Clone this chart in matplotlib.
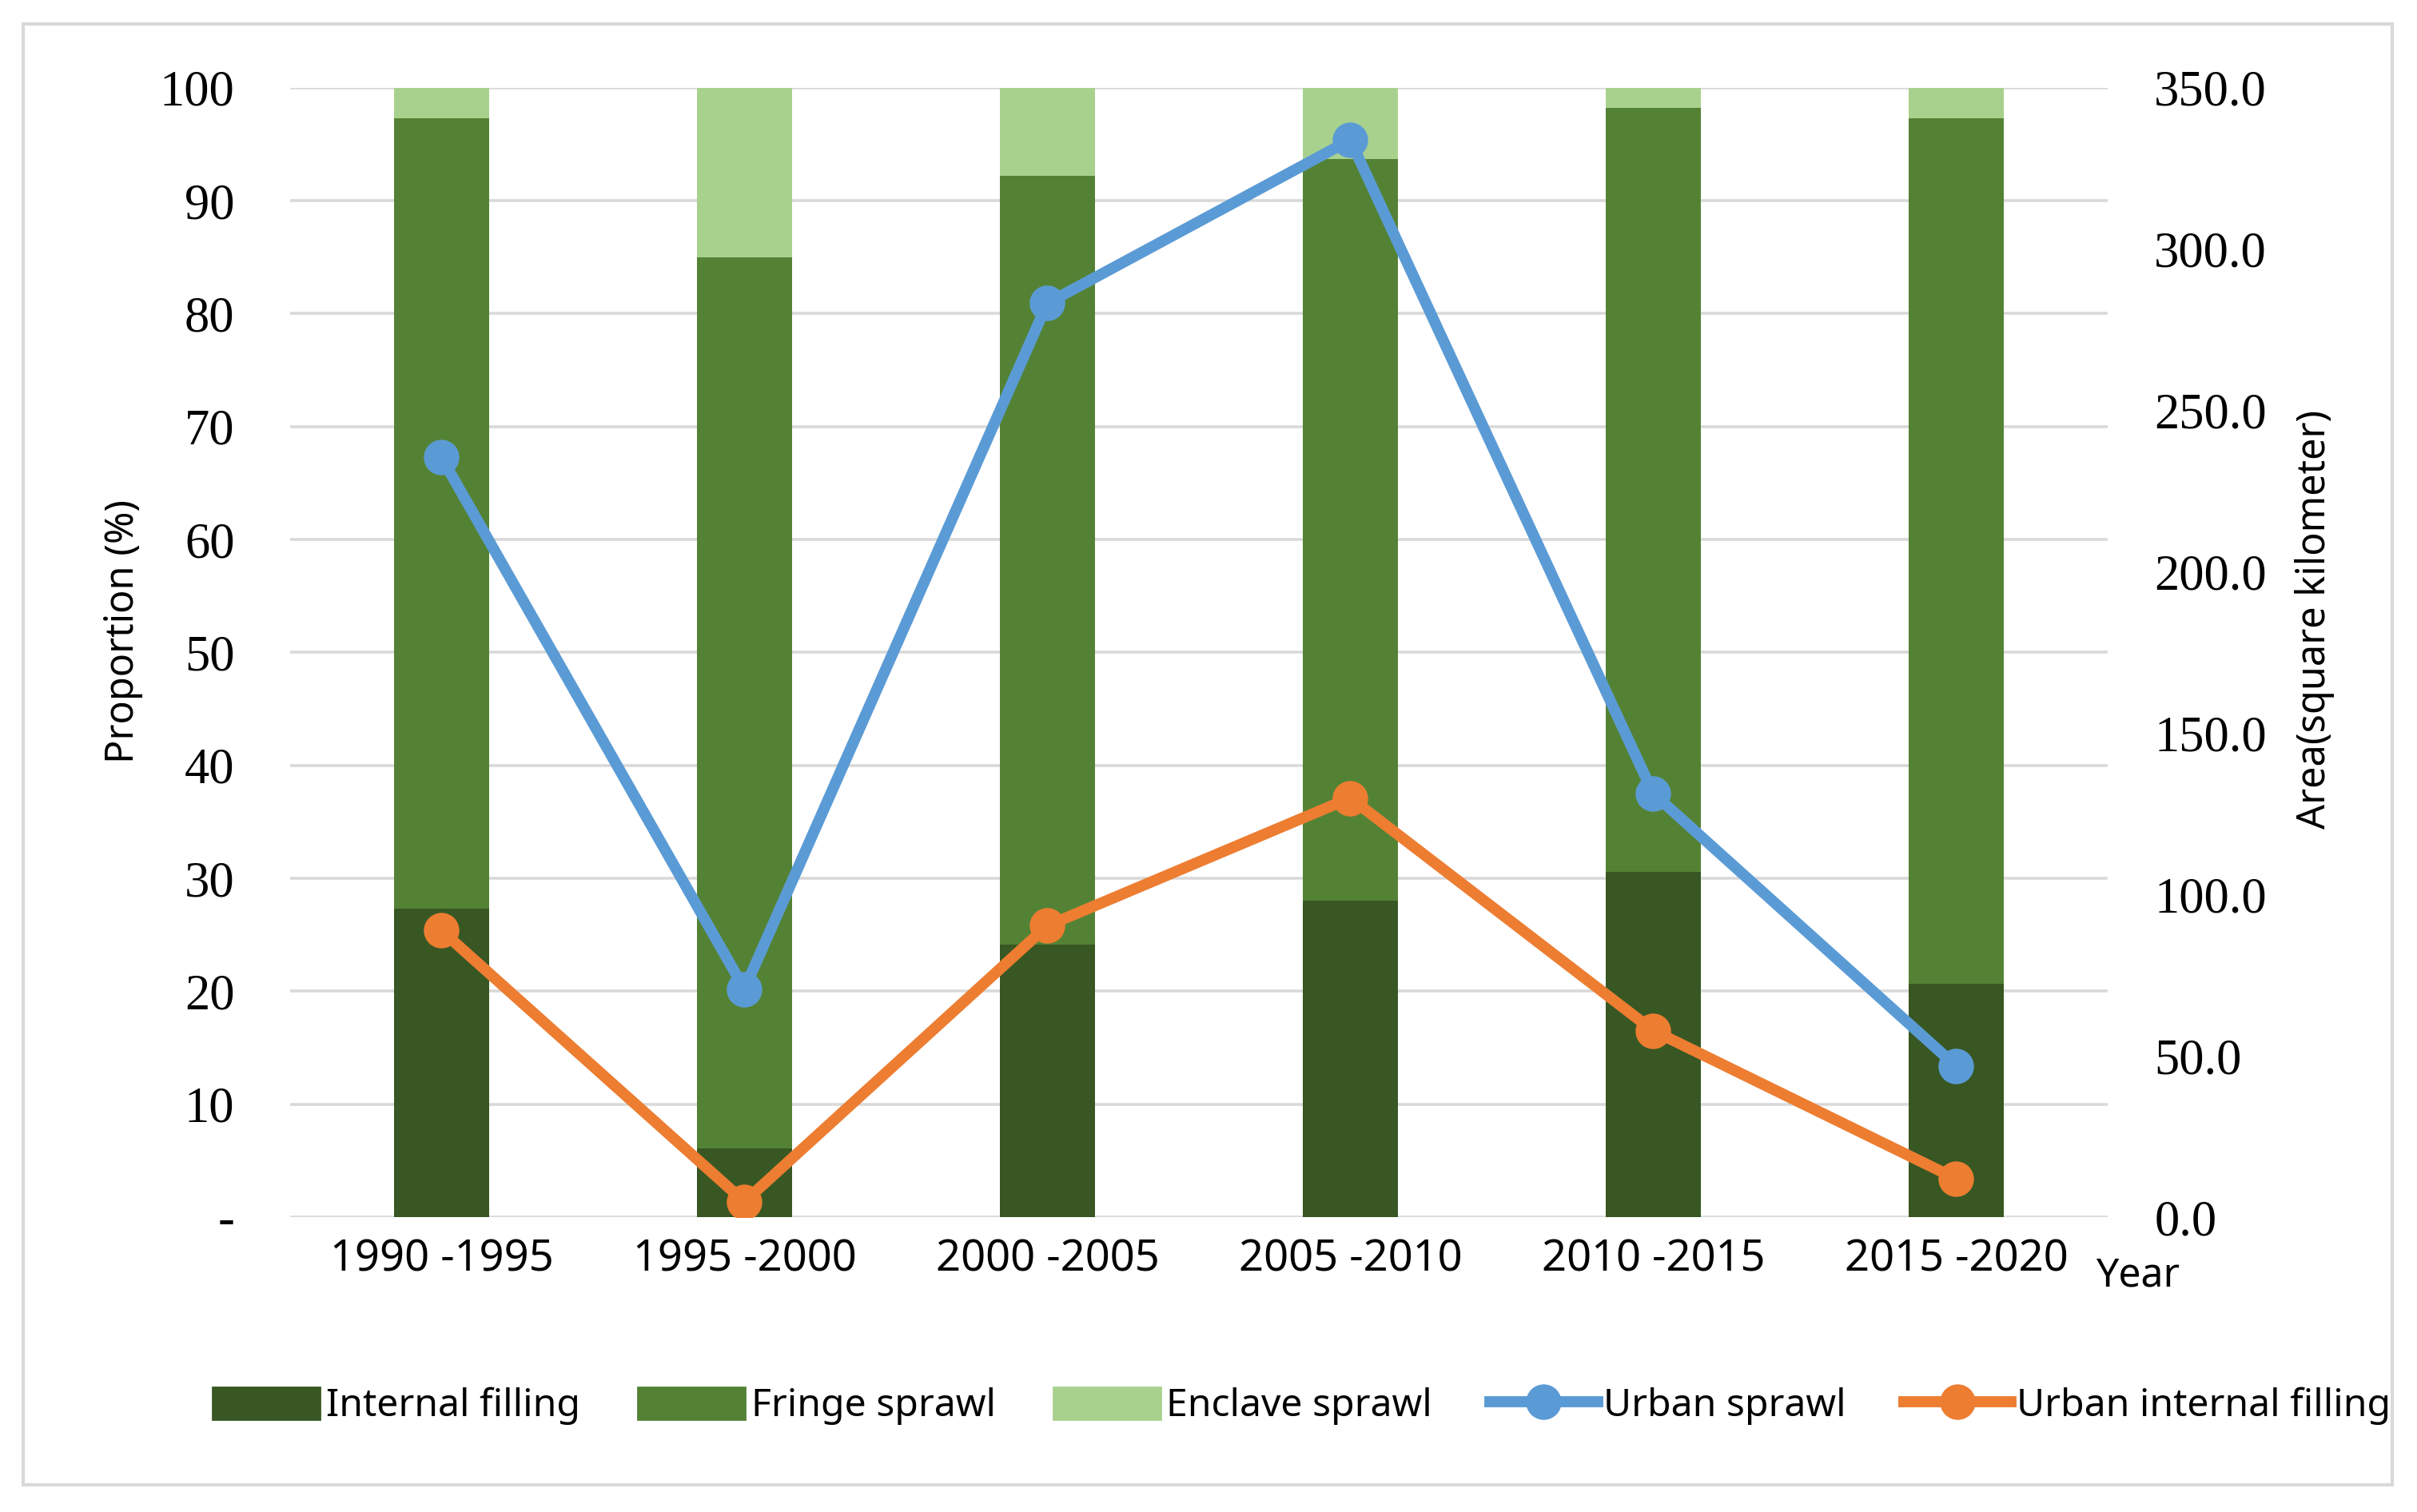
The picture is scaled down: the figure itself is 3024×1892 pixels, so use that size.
#!/usr/bin/env python

"""
Stacked proportion bars of urban expansion types with the
expansion areas drawn as lines on a second axis
"""

import matplotlib
matplotlib.use("Agg")
import matplotlib.pyplot as plt
from matplotlib.patches import Rectangle
from matplotlib.lines import Line2D
from matplotlib.ticker import FuncFormatter

# Periods on the x axis
periods = ["1990 -1995", "1995 -2000", "2000 -2005", "2005 -2010", "2010 -2015", "2015 -2020"]

# Proportions (%) of the stacked bars
internal_filling = [27.3, 6.1, 24.1, 28.0, 30.6, 20.7]
fringe_sprawl = [70.0, 78.9, 68.1, 65.7, 67.6, 76.6]
enclave_sprawl = [2.7, 15.0, 7.8, 6.3, 1.8, 2.7]

# Areas (square kilometer) on the right axis
urban_sprawl = [235.4, 70.7, 283.2, 333.8, 131.3, 46.8]
urban_internal_filling = [88.8, 4.8, 90.3, 129.9, 57.8, 11.9]

left_ticks = [0, 10, 20, 30, 40, 50, 60, 70, 80, 90, 100]
right_ticks = [0, 50, 100, 150, 200, 250, 300, 350]

COLOURS = {
    "internal": "#385723",  # dark green
    "fringe": "#548235",  # green
    "enclave": "#A9D18E",  # light green
    "sprawl": "#5B9BD5",  # blue
    "filling": "#ED7D31",  # orange
    "grid": "#D9D9D9",
}

SERIF = ["Liberation Serif", "DejaVu Serif"]
SANS = ["Noto Sans", "DejaVu Sans"]

LINE_W = 5
MARKER_S = 15

fig = plt.figure(figsize=(15.12, 9.46), dpi=200)
ax = fig.add_axes([0.120, 0.195, 0.752, 0.747])
ax2 = ax.twinx()

x = list(range(len(periods)))
bar_width = 0.315

# Stacked bars
bottom_fringe = internal_filling
bottom_enclave = [a + b for a, b in zip(internal_filling, fringe_sprawl)]
ax.bar(x, internal_filling, width=bar_width, color=COLOURS["internal"], label="Internal filling", zorder=2)
ax.bar(x, fringe_sprawl, width=bar_width, bottom=bottom_fringe, color=COLOURS["fringe"],
       label="Fringe sprawl", zorder=2)
ax.bar(x, enclave_sprawl, width=bar_width, bottom=bottom_enclave, color=COLOURS["enclave"],
       label="Enclave sprawl", zorder=2)

# Area lines
ax2.plot(x, urban_sprawl, color=COLOURS["sprawl"], lw=LINE_W, marker="o", ms=MARKER_S, label="Urban sprawl")
ax2.plot(x, urban_internal_filling, color=COLOURS["filling"], lw=LINE_W, marker="o", ms=MARKER_S,
         label="Urban internal filling")

# Axes ranges
ax.set_xlim(-0.5, len(periods) - 0.5)
ax.set_ylim(0, 100)
ax2.set_ylim(0, 350)

# Grid lines
ax.set_axisbelow(True)
ax.yaxis.grid(True, color=COLOURS["grid"], lw=1.3)
ax.xaxis.grid(False)

# Remove spines and ticks marks
for a in (ax, ax2):
    for side in ("top", "bottom", "left", "right"):
        a.spines[side].set_visible(False)
    a.tick_params(length=0)

# Left ticks
ax.set_yticks(left_ticks)
ax.yaxis.set_major_formatter(FuncFormatter(lambda v, p: "-" if v == 0 else "%d" % v))
ax.tick_params(axis="y", pad=25)
for t in ax.get_yticklabels():
    t.set_fontfamily(SERIF)
    t.set_fontsize(22.5)

# Right ticks
ax2.set_yticks(right_ticks)
ax2.yaxis.set_major_formatter(FuncFormatter(lambda v, p: "%.1f" % v))
ax2.tick_params(axis="y", pad=21)
for t in ax2.get_yticklabels():
    t.set_fontfamily(SERIF)
    t.set_fontsize(22.5)

# X ticks
ax.set_xticks(x)
ax.set_xticklabels(periods, fontfamily=SANS, fontsize=19.5)
ax.tick_params(axis="x", pad=9)

# Axis labels
ax.set_ylabel("Proportion (%)", fontfamily=SANS, fontsize=17.5)
ax.yaxis.set_label_coords(-0.081, 0.519)
ax2.set_ylabel("Area(square kilometer)", fontfamily=SANS, fontsize=17.5)
ax2.yaxis.set_label_coords(1.103, 0.529)
fig.text(0.8846, 0.156, "Year", ha="center", va="center", fontfamily=SANS, fontsize=18)

# Legend
handles = [
    Rectangle((0, 0), 1, 1, color=COLOURS["internal"]),
    Rectangle((0, 0), 1, 1, color=COLOURS["fringe"]),
    Rectangle((0, 0), 1, 1, color=COLOURS["enclave"]),
    Line2D([], [], color=COLOURS["sprawl"], lw=LINE_W, marker="o", ms=MARKER_S),
    Line2D([], [], color=COLOURS["filling"], lw=LINE_W, marker="o", ms=MARKER_S),
]
labels = ["Internal filling", "Fringe sprawl", "Enclave sprawl", "Urban sprawl", "Urban internal filling"]
fig.legend(handles, labels, loc="center", bbox_to_anchor=(0.5386, 0.070), ncol=5, frameon=False,
           prop={"family": SANS, "size": 17.3}, handlelength=2.8, handleheight=0.9,
           handletextpad=0.15, columnspacing=1.5)

# Outer border
fig.patches.append(Rectangle((0.0096, 0.018), 0.980, 0.966, transform=fig.transFigure,
                             fill=False, edgecolor=COLOURS["grid"], lw=1.5))

plt.savefig("out.png", dpi=200)
